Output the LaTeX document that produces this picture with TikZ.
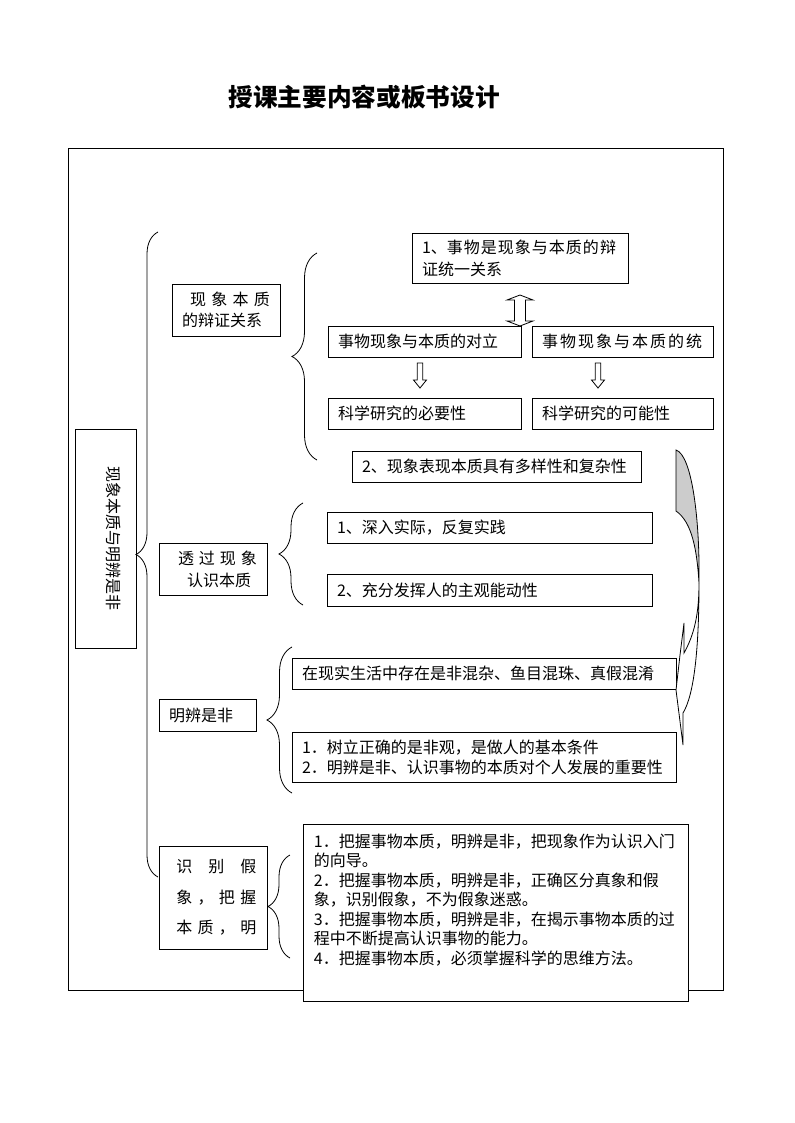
\documentclass[tikz,border=0pt]{standalone}
\usepackage{fontspec}
\setmainfont{Noto Sans CJK SC}
\usetikzlibrary{decorations.pathreplacing,positioning,calc}
\def\px{0.75pt}
\tikzset{
  box/.style={draw, line width=0.6pt, fill=white, inner xsep=7.5pt, inner ysep=0pt,
    align=left, font=\fontsize{12pt}{16pt}\selectfont},
  curly/.style={decorate, line width=0.6pt, decoration={brace, amplitude=#1}},
  curly/.default=18pt,
  hollow/.style={draw, line width=0.6pt, fill=white},
}
\begin{document}
\begin{tikzpicture}[x=0.75pt, y=-0.75pt]
  \useasboundingbox (0,0) rectangle (794,1123);
  \node[font=\fontsize{18.5pt}{20pt}\selectfont\bfseries] (title) at (364,97) {授课主要内容或板书设计};
  %
  \draw[line width=0.6pt] (68,148) rectangle (723,990);   % outer frame
  %
  \node[box, minimum width=61*\px, minimum height=219*\px] (topic) at (105.5,538.5) {};
  \node[rotate=-90, font=\fontsize{12pt}{16pt}\selectfont] (topictext) at ([xshift=6pt]topic.center) {现象本质与明辨是非};
  %
  % first part
  \node[box, text width=66pt, minimum height=52*\px, font=\fontsize{12pt}{15.75pt}\selectfont] (dialectic) at (226,310)
    {\hspace*{6pt}\makebox[60pt][s]{现\hfill 象\hfill 本\hfill 质}\\的辩证关系};
  \node[box, text width=147pt, minimum height=50*\px, font=\fontsize{12pt}{16.5pt}\selectfont] (unity) at (520,258)
    {\makebox[145.5pt][s]{1、事\hfill 物\hfill 是\hfill 现\hfill 象\hfill 与\hfill 本\hfill 质\hfill 的\hfill 辩}\\证统一关系};
  \node[box, text width=129.75pt, minimum height=31*\px] (oppose) at (424.5,341.5) {事物现象与本质的对立};
  \node[box, text width=120.75pt, minimum height=31*\px] (unite) at (622.5,341.5)
    {\makebox[120pt][s]{事\hfill 物\hfill 现\hfill 象\hfill 与\hfill 本\hfill 质\hfill 的\hfill 统}};
  \node[box, text width=129.75pt, minimum height=31*\px] (need) at (424.5,413.5) {科学研究的必要性};
  \node[box, text width=120.75pt, minimum height=31*\px] (may) at (622.5,413.5) {科学研究的可能性};
  \node[box, text width=201.75pt, minimum height=31*\px] (variety) at (496.5,466.5) {2、现象表现本质具有多样性和复杂性};
  %
  \draw[hollow] (520,295) -- (533,300) -- (525.5,300) -- (525.5,321) -- (533,321) -- (520,326)
    -- (507,321) -- (514.5,321) -- (514.5,300) -- (507,300) -- cycle;   % double arrow
  \coordinate (arrL) at (420,363);
  \coordinate (arrR) at (598,363);
  \foreach \c in {arrL,arrR}
    \draw[hollow, shift={(\c)}] (-2.7,0) -- (2.7,0) -- (2.7,17) -- (6.5,17) -- (0,25) -- (-6.5,17) -- (-2.7,17) -- cycle;
  %
  % second part
  \node[box, text width=66pt, minimum height=52*\px, font=\fontsize{12pt}{16.5pt}\selectfont] (through) at (213,569)
    {\hspace*{6.75pt}\makebox[59.25pt][s]{透\hfill 过\hfill 现\hfill 象}\\\hspace*{13.5pt}认识本质};
  \node[box, text width=228.75pt, minimum height=31*\px] (practice) at (489.5,527.5) {1、深入实际，反复实践};
  \node[box, text width=228.75pt, minimum height=32*\px] (initiative) at (489.5,590) {2、充分发挥人的主观能动性};
  %
  % third part
  \node[box, text width=57.75pt, minimum height=32*\px] (judge) at (207.5,715) {明辨是非};
  \node[box, text width=273pt, minimum height=31*\px] (mixed) at (484,673.5) {在现实生活中存在是非混杂、鱼目混珠、真假混淆};
  \node[box, text width=273pt, minimum height=50*\px, font=\fontsize{12pt}{15pt}\selectfont] (meaning) at (484,757)
    {1．树立正确的是非观，是做人的基本条件\\2．明辨是非、认识事物的本质对个人发展的重要性};
  %
  % fourth part
  \node[box, text width=66pt, minimum height=103*\px, font=\fontsize{12pt}{22.9pt}\selectfont] (grasp) at (213,897.5)
    {\hspace*{5.5pt}\makebox[60pt][s]{识\hfill 别\hfill 假}\\
     \hspace*{5.5pt}\makebox[60pt][s]{象\hfill ，\hfill 把\hfill 握}\\
     \hspace*{5.5pt}\makebox[60pt][s]{本\hfill 质\hfill ，\hfill 明}};
  \node[box, minimum width=385*\px, minimum height=177*\px] (methods) at (495.5,912.5) {};
  \node[anchor=north west, inner sep=0pt, align=left, font=\fontsize{12pt}{14.6pt}\selectfont] (methodstext)
    at ([xshift=8.25pt,yshift=-7.5pt]methods.north west)
    {1．把握事物本质，明辨是非，把现象作为认识入门\\的向导。\\
     2．把握事物本质，明辨是非，正确区分真象和假\\象，识别假象，不为假象迷惑。\\
     3．把握事物本质，明辨是非，在揭示事物本质的过\\程中不断提高认识事物的能力。\\
     4．把握事物本质，必须掌握科学的思维方法。};
  %
  % braces
  \coordinate (b0top) at (158,232);  \coordinate (b0bot) at (158,877);
  \coordinate (b1top) at (317,253);  \coordinate (b1bot) at (317,460);
  \coordinate (b2top) at (303,503);  \coordinate (b2bot) at (303,605);
  \coordinate (b3top) at (292,647);  \coordinate (b3bot) at (292,793);
  \coordinate (b4top) at (290,855);  \coordinate (b4bot) at (290,958);
  \draw[curly=16.5pt] (b0bot) -- (b0top);
  \draw[curly=18.75pt] (b1bot) -- (b1top);
  \draw[curly=18pt] (b2bot) -- (b2top);
  \draw[curly=18.75pt] (b3bot) -- (b3top);
  \draw[curly=16.5pt] (b4bot) -- (b4top);
  %
  % curved arrow
  \draw[line width=0.6pt, fill=gray!40] (676,450) .. controls (692,455) and (700,520) .. (699,583)
    .. controls (697,550) and (692,522) .. (676,511) -- cycle;
  \draw[line width=0.6pt, fill=white] (699,583) .. controls (699,650) and (694,695) .. (683,713)
    -- (683,745) -- (676,690) -- (680,655) -- (684,623) -- (684,653)
    .. controls (694,635) and (699,615) .. (699,583);
\end{tikzpicture}
\end{document}
